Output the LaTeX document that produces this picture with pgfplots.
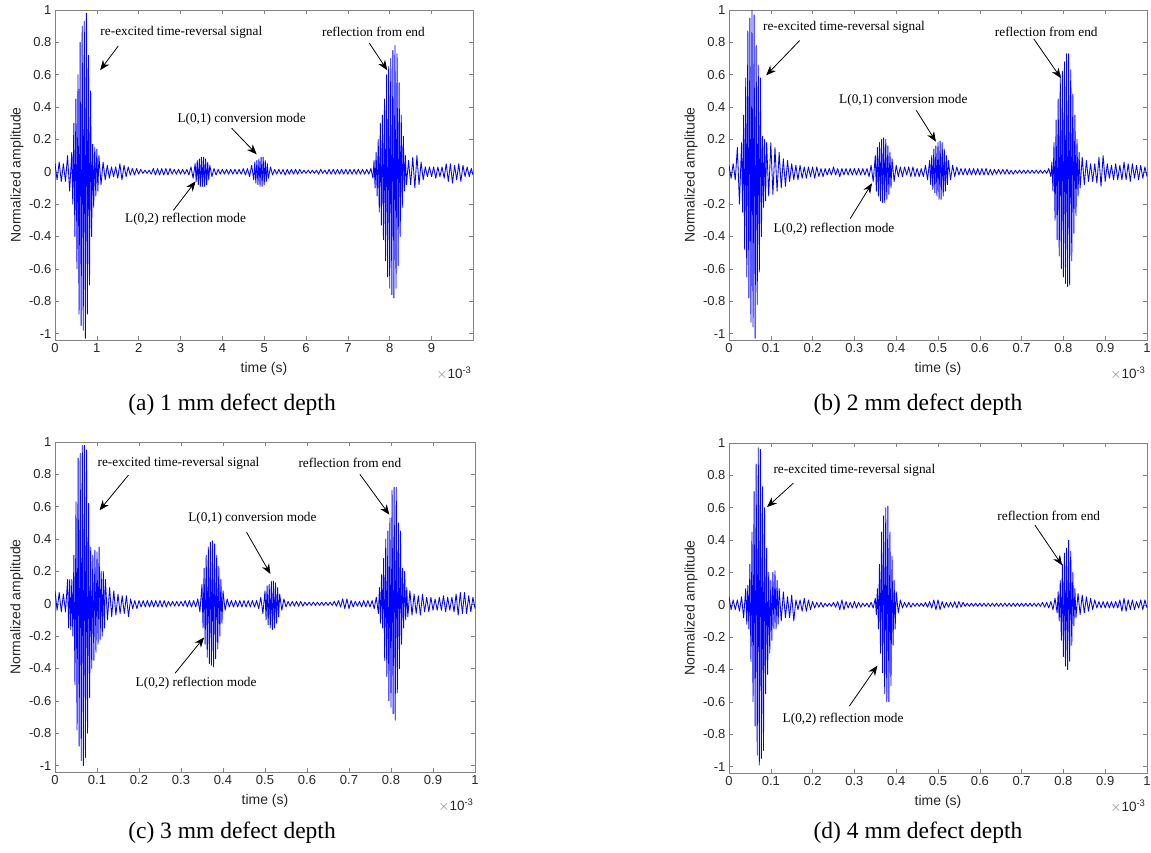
\documentclass[border=0pt]{standalone}
\usepackage{fontspec}
\setmainfont{Liberation Serif}
\newfontfamily\arial{Liberation Sans}
\usepackage{pgfplots}
\pgfplotsset{compat=1.18}
\usetikzlibrary{arrows.meta}

\definecolor{txtgray}{RGB}{38,38,38}
\definecolor{boxgray}{RGB}{130,130,130}

\pgfplotsset{
  matlab/.style={
    scale only axis, width=418pt, height=330pt,
    anchor=south west, clip mode=individual,
    ymin=-1.04, ymax=1,
    ytick={-1,-0.8,-0.6,-0.4,-0.2,0,0.2,0.4,0.6,0.8,1},
    tick align=inside, major tick length=4pt,
    axis line style={boxgray, line width=0.6pt},
    every tick/.style={boxgray, line width=0.5pt},
    tick label style={font=\arial\fontsize{13}{15}\selectfont, text=txtgray},
    label style={font=\arial\fontsize{14}{16}\selectfont, text=txtgray},
    /pgf/number format/assume math mode=true,
    /pgf/number format/fixed,
    xlabel={time (s)}, ylabel={Normalized amplitude},
    xlabel style={at={(axis description cs:0.5,-0.088)}, anchor=center},
    ylabel style={at={(axis description cs:-0.091,0.5)}, anchor=center},
  },
  sig/.style={blue, line width=0.85pt, line join=round},
}
\tikzset{
  note/.style={font=\fontsize{13.3}{15}\selectfont},
  arr/.style={black, line width=0.8pt, -{Stealth[length=10pt,width=8pt]}},
  expo/.style={font=\arial\fontsize{13.5}{15}\selectfont, text=txtgray, anchor=east, yshift=-33pt, xshift=2pt},
}
\newcommand{\expolabel}{{\color{gray}$\times$}10\textsuperscript{-3}}

\begin{document}
\begin{tikzpicture}
\path[use as bounding box] (0pt,0pt) rectangle (1151pt,-852pt);

% (a)
\begin{axis}[matlab, at={(55pt,-340pt)}, xmin=0, xmax=9.99, xtick={0,1,2,3,4,5,6,7,8,9}]
\addplot[sig] coordinates {
(0.00,0.05)(0.05,-0.05)(0.10,0.06)(0.15,-0.06)(0.20,0.05)(0.25,-0.06)(0.30,0.10)(0.35,-0.12)
(0.40,0.12)(0.425,-0.20)(0.45,0.30)(0.475,-0.40)(0.50,0.45)(0.525,-0.60)(0.55,0.60)(0.575,-0.88)
(0.60,0.80)(0.625,-0.95)(0.65,0.90)(0.675,-0.98)(0.70,0.93)(0.725,-1.03)(0.75,0.98)(0.775,-0.88)
(0.80,0.72)(0.825,-0.70)(0.85,0.50)(0.875,-0.40)(0.90,0.17)(0.925,-0.22)(0.95,0.15)(0.975,-0.15)
(1.00,0.14)(1.025,-0.12)(1.05,0.10)(1.10,-0.08)(1.15,0.06)(1.20,-0.05)(1.25,0.04)(1.30,-0.04)
(1.35,0.03)(1.40,-0.03)(1.45,0.03)(1.50,-0.04)(1.55,0.05)(1.60,-0.05)(1.65,0.04)(1.70,-0.03)
(1.75,0.03)(1.80,-0.02)(1.85,0.02)(1.90,-0.02)(1.95,0.02)(2.00,-0.015)(2.05,0.015)(2.10,-0.01)
(2.15,0.01)(2.20,-0.01)(2.25,0.01)(2.30,-0.015)(2.35,0.02)(2.40,-0.02)(2.45,0.02)(2.50,-0.02)
(2.55,0.02)(2.60,-0.02)(2.65,0.02)(2.70,-0.02)(2.75,0.02)(2.80,-0.015)(2.85,0.015)(2.90,-0.015)
(2.95,0.015)(3.00,-0.015)(3.05,0.015)(3.10,-0.015)(3.15,0.015)(3.20,-0.02)(3.25,0.03)(3.30,-0.04)
(3.35,0.05)(3.375,-0.06)(3.40,0.07)(3.425,-0.08)(3.45,0.08)(3.475,-0.09)(3.50,0.09)(3.525,-0.09)
(3.55,0.09)(3.575,-0.09)(3.60,0.08)(3.625,-0.08)(3.65,0.06)(3.675,-0.05)(3.70,0.04)(3.75,-0.03)
(3.80,0.02)(3.85,-0.02)(3.90,0.015)(3.95,-0.015)(4.00,0.015)(4.05,-0.015)(4.10,0.015)(4.15,-0.015)
(4.20,0.015)(4.25,-0.015)(4.30,0.015)(4.35,-0.015)(4.40,0.015)(4.45,-0.015)(4.50,0.02)(4.55,-0.02)
(4.60,0.02)(4.65,-0.03)(4.70,0.04)(4.75,-0.05)(4.775,0.06)(4.80,-0.07)(4.825,0.07)(4.85,-0.08)
(4.875,0.08)(4.90,-0.09)(4.925,0.09)(4.95,-0.09)(4.975,0.09)(5.00,-0.08)(5.025,0.07)(5.05,-0.06)
(5.075,0.05)(5.10,-0.04)(5.15,0.03)(5.20,-0.02)(5.25,0.015)(5.30,-0.015)(5.35,0.015)(5.40,-0.015)
(5.45,0.015)(5.50,-0.02)(5.55,0.015)(5.60,-0.015)(5.65,0.015)(5.70,-0.015)(5.75,0.015)(5.80,-0.015)
(5.85,0.015)(5.90,-0.01)(5.95,0.01)(6.00,-0.01)(6.05,0.01)(6.10,-0.01)(6.15,0.01)(6.20,-0.01)
(6.25,0.01)(6.30,-0.015)(6.35,0.015)(6.40,-0.01)(6.45,0.01)(6.50,-0.015)(6.55,0.015)(6.60,-0.015)
(6.65,0.015)(6.70,-0.015)(6.75,0.015)(6.80,-0.015)(6.85,0.015)(6.90,-0.015)(6.95,0.015)(7.00,-0.015)
(7.05,0.015)(7.10,-0.015)(7.15,0.015)(7.20,-0.015)(7.25,0.015)(7.30,-0.015)(7.35,0.015)(7.40,-0.015)
(7.45,0.015)(7.50,-0.015)(7.55,0.02)(7.60,-0.04)(7.625,0.07)(7.65,-0.10)(7.675,0.12)(7.70,-0.15)
(7.725,0.20)(7.75,-0.25)(7.775,0.30)(7.80,-0.33)(7.825,0.35)(7.85,-0.42)(7.875,0.45)(7.90,-0.55)
(7.925,0.60)(7.95,-0.65)(7.975,0.65)(8.00,-0.72)(8.025,0.70)(8.05,-0.76)(8.075,0.75)(8.10,-0.78)
(8.125,0.78)(8.15,-0.72)(8.175,0.73)(8.20,-0.58)(8.225,0.55)(8.25,-0.40)(8.275,0.35)(8.30,-0.22)
(8.325,0.22)(8.35,-0.12)(8.375,0.10)(8.40,-0.08)(8.45,0.07)(8.50,-0.08)(8.55,0.09)(8.60,-0.10)
(8.65,0.10)(8.70,-0.08)(8.75,0.06)(8.80,-0.05)(8.85,0.03)(8.90,-0.03)(8.95,0.03)(9.00,-0.03)
(9.05,0.03)(9.10,-0.04)(9.15,0.03)(9.20,-0.03)(9.25,0.03)(9.30,-0.04)(9.35,0.05)(9.40,-0.06)
(9.45,0.05)(9.50,-0.07)(9.55,0.04)(9.60,-0.05)(9.65,0.05)(9.70,-0.06)(9.75,0.04)(9.80,-0.03)
(9.85,0.03)(9.90,-0.03)(9.95,0.02)(9.99,-0.02)
};
\node[note] at (axis cs:3.02,0.865) {re-excited time-reversal signal};
\draw[arr] (axis cs:1.51,0.777) -- (axis cs:1.08,0.628);
\node[note] at (axis cs:7.61,0.865) {reflection from end};
\draw[arr] (axis cs:7.51,0.796) -- (axis cs:7.94,0.628);
\node[note] at (axis cs:4.46,0.325) {L(0,1) conversion mode};
\draw[arr] (axis cs:4.22,0.27) -- (axis cs:4.82,0.108);
\node[note] at (axis cs:3.12,-0.294) {L(0,2) reflection mode};
\draw[arr] (axis cs:2.83,-0.238) -- (axis cs:3.36,-0.059);
\node[expo] at (rel axis cs:1,0) {\expolabel};
\end{axis}

% (b)
\begin{axis}[matlab, at={(729pt,-340pt)}, xmin=0, xmax=1, xtick={0,0.1,0.2,0.3,0.4,0.5,0.6,0.7,0.8,0.9,1}]
\addplot[sig] coordinates {
(0.000,0.04)(0.005,-0.04)(0.010,0.05)(0.015,-0.05)(0.020,0.15)(0.025,-0.20)(0.030,0.18)(0.0325,-0.25)
(0.035,0.35)(0.0375,-0.48)(0.040,0.58)(0.0425,-0.65)(0.045,0.87)(0.0475,-0.78)(0.050,0.95)(0.0525,-0.93)
(0.055,1.00)(0.0575,-0.96)(0.060,0.97)(0.0625,-1.03)(0.065,0.78)(0.0675,-0.82)(0.070,0.66)(0.0725,-0.62)
(0.075,0.58)(0.0775,-0.40)(0.080,0.22)(0.0825,-0.22)(0.085,0.20)(0.0875,-0.18)(0.090,0.18)(0.095,-0.15)
(0.100,0.18)(0.105,-0.14)(0.110,0.15)(0.115,-0.12)(0.120,0.12)(0.125,-0.10)(0.130,0.08)(0.135,-0.09)
(0.140,0.07)(0.145,-0.06)(0.150,0.05)(0.155,-0.05)(0.160,0.04)(0.165,-0.05)(0.170,0.04)(0.175,-0.04)
(0.180,0.03)(0.185,-0.04)(0.190,0.03)(0.195,-0.03)(0.200,0.03)(0.205,-0.04)(0.210,0.03)(0.215,-0.03)
(0.220,0.02)(0.225,-0.03)(0.230,0.02)(0.235,-0.02)(0.240,0.02)(0.245,-0.02)(0.250,0.03)(0.255,-0.02)
(0.260,0.02)(0.265,-0.03)(0.270,0.02)(0.275,-0.02)(0.280,0.02)(0.285,-0.02)(0.290,0.02)(0.295,-0.02)
(0.300,0.02)(0.305,-0.02)(0.310,0.02)(0.315,-0.02)(0.320,0.02)(0.325,-0.02)(0.330,0.02)(0.335,-0.03)
(0.340,0.04)(0.345,-0.06)(0.350,0.10)(0.3525,-0.12)(0.355,0.15)(0.3575,-0.15)(0.360,0.18)(0.3625,-0.18)
(0.365,0.20)(0.3675,-0.19)(0.370,0.21)(0.3725,-0.19)(0.375,0.20)(0.3775,-0.17)(0.380,0.16)(0.3825,-0.14)
(0.385,0.12)(0.3875,-0.10)(0.390,0.08)(0.395,-0.06)(0.400,0.04)(0.405,-0.03)(0.410,0.03)(0.415,-0.03)
(0.420,0.03)(0.425,-0.02)(0.430,0.03)(0.435,-0.03)(0.440,0.03)(0.445,-0.03)(0.450,0.02)(0.455,-0.03)
(0.460,0.02)(0.465,-0.03)(0.470,0.04)(0.475,-0.05)(0.480,0.07)(0.4825,-0.08)(0.485,0.10)(0.4875,-0.11)
(0.490,0.14)(0.4925,-0.13)(0.495,0.16)(0.4975,-0.15)(0.500,0.18)(0.5025,-0.17)(0.505,0.19)(0.5075,-0.17)
(0.510,0.18)(0.5125,-0.15)(0.515,0.14)(0.5175,-0.12)(0.520,0.10)(0.5225,-0.08)(0.525,0.07)(0.530,-0.05)
(0.535,0.04)(0.540,-0.03)(0.545,0.03)(0.550,-0.02)(0.555,0.02)(0.560,-0.02)(0.565,0.02)(0.570,-0.02)
(0.575,0.02)(0.580,-0.02)(0.585,0.02)(0.590,-0.02)(0.595,0.02)(0.600,-0.02)(0.605,0.02)(0.610,-0.02)
(0.615,0.02)(0.620,-0.02)(0.625,0.015)(0.630,-0.02)(0.635,0.015)(0.640,-0.015)(0.645,0.015)(0.650,-0.015)
(0.655,0.015)(0.660,-0.015)(0.665,0.015)(0.670,-0.015)(0.675,0.01)(0.680,-0.015)(0.685,0.01)(0.690,-0.01)
(0.695,0.01)(0.700,-0.01)(0.705,0.01)(0.710,-0.01)(0.715,0.01)(0.720,-0.01)(0.725,0.01)(0.730,-0.01)
(0.735,0.01)(0.740,-0.01)(0.745,0.01)(0.750,-0.01)(0.755,0.01)(0.760,-0.01)(0.765,0.02)(0.770,-0.03)
(0.7725,0.06)(0.775,-0.12)(0.7775,0.18)(0.780,-0.30)(0.7825,0.32)(0.785,-0.42)(0.7875,0.45)(0.790,-0.52)
(0.7925,0.60)(0.795,-0.60)(0.7975,0.62)(0.800,-0.65)(0.8025,0.68)(0.805,-0.69)(0.8075,0.73)(0.810,-0.71)
(0.8125,0.73)(0.815,-0.70)(0.8175,0.63)(0.820,-0.55)(0.8225,0.48)(0.825,-0.38)(0.8275,0.35)(0.830,-0.27)
(0.8325,0.20)(0.835,-0.15)(0.8375,0.12)(0.840,-0.10)(0.845,0.09)(0.850,-0.08)(0.855,0.07)(0.860,-0.06)
(0.865,0.05)(0.870,-0.06)(0.875,0.05)(0.880,-0.07)(0.885,0.09)(0.890,-0.09)(0.895,0.10)(0.900,-0.06)
(0.905,0.05)(0.910,-0.04)(0.915,0.04)(0.920,-0.05)(0.925,0.05)(0.930,-0.05)(0.935,0.04)(0.940,-0.05)
(0.945,0.06)(0.950,-0.05)(0.955,0.05)(0.960,-0.06)(0.965,0.05)(0.970,-0.04)(0.975,0.04)(0.980,-0.05)
(0.985,0.04)(0.990,-0.04)(0.995,0.03)(1.000,-0.03)
};
\node[note] at (axis cs:0.275,0.893) {re-excited time-reversal signal};
\draw[arr] (axis cs:0.169,0.811) -- (axis cs:0.089,0.596);
\node[note] at (axis cs:0.759,0.867) {reflection from end};
\draw[arr] (axis cs:0.729,0.822) -- (axis cs:0.794,0.579);
\node[note] at (axis cs:0.417,0.442) {L(0,1) conversion mode};
\draw[arr] (axis cs:0.448,0.380) -- (axis cs:0.495,0.186);
\node[note] at (axis cs:0.251,-0.354) {L(0,2) reflection mode};
\draw[arr] (axis cs:0.290,-0.290) -- (axis cs:0.342,-0.071);
\node[expo] at (rel axis cs:1,0) {\expolabel};
\end{axis}

% (c)
\begin{axis}[matlab, at={(55pt,-772pt)}, width=420pt, xmin=0, xmax=1, xtick={0,0.1,0.2,0.3,0.4,0.5,0.6,0.7,0.8,0.9,1}]
\addplot[sig] coordinates {
(0.000,0.08)(0.005,-0.04)(0.010,0.07)(0.015,-0.05)(0.020,0.06)(0.025,-0.05)(0.030,0.15)(0.0325,-0.15)
(0.035,0.15)(0.0375,-0.16)(0.040,0.15)(0.0425,-0.20)(0.045,0.30)(0.0475,-0.50)(0.050,0.63)(0.0525,-0.78)
(0.055,0.90)(0.0575,-0.88)(0.060,0.93)(0.0625,-0.97)(0.065,0.98)(0.0675,-1.00)(0.070,0.98)(0.0725,-0.95)
(0.075,0.95)(0.0775,-0.80)(0.080,0.62)(0.0825,-0.58)(0.085,0.35)(0.0875,-0.40)(0.090,0.30)(0.0925,-0.35)
(0.095,0.33)(0.0975,-0.30)(0.100,0.32)(0.1025,-0.25)(0.105,0.35)(0.1075,-0.22)(0.110,0.20)(0.1125,-0.20)
(0.115,0.20)(0.1175,-0.15)(0.120,0.15)(0.125,-0.10)(0.130,0.10)(0.135,-0.08)(0.140,0.08)(0.145,-0.07)
(0.150,0.06)(0.155,-0.06)(0.160,0.05)(0.165,-0.06)(0.170,0.05)(0.175,-0.08)(0.180,0.03)(0.185,-0.03)
(0.190,0.02)(0.195,-0.03)(0.200,0.02)(0.205,-0.02)(0.210,0.02)(0.215,-0.02)(0.220,0.02)(0.225,-0.02)
(0.230,0.02)(0.235,-0.02)(0.240,0.02)(0.245,-0.02)(0.250,0.02)(0.255,-0.02)(0.260,0.02)(0.265,-0.02)
(0.270,0.015)(0.275,-0.015)(0.280,0.015)(0.285,-0.015)(0.290,0.015)(0.295,-0.015)(0.300,0.015)(0.305,-0.015)
(0.310,0.02)(0.315,-0.02)(0.320,0.02)(0.325,-0.02)(0.330,0.02)(0.335,-0.02)(0.340,0.03)(0.345,-0.05)
(0.350,0.12)(0.3525,-0.15)(0.355,0.22)(0.3575,-0.25)(0.360,0.30)(0.3625,-0.33)(0.365,0.35)(0.3675,-0.37)
(0.370,0.38)(0.3725,-0.38)(0.375,0.39)(0.3775,-0.39)(0.380,0.37)(0.3825,-0.34)(0.385,0.30)(0.3875,-0.28)
(0.390,0.23)(0.3925,-0.20)(0.395,0.15)(0.3975,-0.12)(0.400,0.08)(0.405,-0.04)(0.410,0.03)(0.415,-0.02)
(0.420,0.02)(0.425,-0.02)(0.430,0.02)(0.435,-0.02)(0.440,0.02)(0.445,-0.02)(0.450,0.02)(0.455,-0.02)
(0.460,0.02)(0.465,-0.02)(0.470,0.02)(0.475,-0.02)(0.480,0.02)(0.485,-0.03)(0.490,0.04)(0.495,-0.06)
(0.500,0.08)(0.5025,-0.10)(0.505,0.11)(0.5075,-0.13)(0.510,0.12)(0.5125,-0.15)(0.515,0.14)(0.5175,-0.16)
(0.520,0.14)(0.5225,-0.15)(0.525,0.13)(0.5275,-0.12)(0.530,0.10)(0.5325,-0.08)(0.535,0.06)(0.540,-0.04)
(0.545,0.03)(0.550,-0.02)(0.555,0.015)(0.560,-0.015)(0.565,0.015)(0.570,-0.015)(0.575,0.015)(0.580,-0.015)
(0.585,0.015)(0.590,-0.015)(0.595,0.01)(0.600,-0.01)(0.605,0.01)(0.610,-0.01)(0.615,0.01)(0.620,-0.01)
(0.625,0.01)(0.630,-0.01)(0.635,0.01)(0.640,-0.01)(0.645,0.01)(0.650,-0.01)(0.655,0.01)(0.660,-0.01)
(0.665,0.015)(0.670,-0.015)(0.675,0.02)(0.680,-0.02)(0.685,0.03)(0.690,-0.03)(0.695,0.03)(0.700,-0.03)
(0.705,0.02)(0.710,-0.02)(0.715,0.015)(0.720,-0.015)(0.725,0.015)(0.730,-0.02)(0.735,0.02)(0.740,-0.02)
(0.745,0.02)(0.750,-0.02)(0.755,0.02)(0.760,-0.03)(0.765,0.04)(0.770,-0.06)(0.7725,0.10)(0.775,-0.12)
(0.7775,0.18)(0.780,-0.15)(0.7825,0.28)(0.785,-0.35)(0.7875,0.40)(0.790,-0.45)(0.7925,0.45)(0.795,-0.60)
(0.7975,0.53)(0.800,-0.64)(0.8025,0.70)(0.805,-0.68)(0.8075,0.72)(0.810,-0.72)(0.8125,0.72)(0.815,-0.55)
(0.8175,0.50)(0.820,-0.40)(0.8225,0.45)(0.825,-0.25)(0.8275,0.22)(0.830,-0.15)(0.8325,0.20)(0.835,-0.10)
(0.8375,0.10)(0.840,-0.08)(0.845,0.08)(0.850,-0.07)(0.855,0.06)(0.860,-0.06)(0.865,0.05)(0.870,-0.07)
(0.875,0.06)(0.880,-0.05)(0.885,0.04)(0.890,-0.05)(0.895,0.04)(0.900,-0.04)(0.905,0.03)(0.910,-0.04)
(0.915,0.04)(0.920,-0.04)(0.925,0.05)(0.930,-0.05)(0.935,0.04)(0.940,-0.04)(0.945,0.04)(0.950,-0.05)
(0.955,0.06)(0.960,-0.07)(0.965,0.07)(0.970,-0.06)(0.975,0.07)(0.980,-0.06)(0.985,0.05)(0.990,-0.05)
(0.995,0.04)(1.000,-0.03)
};
\node[note] at (axis cs:0.294,0.871) {re-excited time-reversal signal};
\draw[arr] (axis cs:0.175,0.796) -- (axis cs:0.106,0.578);
\node[note] at (axis cs:0.702,0.871) {reflection from end};
\draw[arr] (axis cs:0.726,0.80) -- (axis cs:0.796,0.551);
\node[note] at (axis cs:0.470,0.531) {L(0,1) conversion mode};
\draw[arr] (axis cs:0.456,0.443) -- (axis cs:0.513,0.184);
\node[note] at (axis cs:0.336,-0.494) {L(0,2) reflection mode};
\draw[arr] (axis cs:0.286,-0.429) -- (axis cs:0.355,-0.208);
\node[expo] at (rel axis cs:1,0) {\expolabel};
\end{axis}

% (d)
\begin{axis}[matlab, at={(729pt,-773pt)}, xmin=0, xmax=1, xtick={0,0.1,0.2,0.3,0.4,0.5,0.6,0.7,0.8,0.9,1}]
\addplot[sig] coordinates {
(0.000,0.05)(0.005,-0.03)(0.010,0.03)(0.015,-0.03)(0.020,0.03)(0.025,-0.04)(0.030,0.05)(0.035,-0.08)
(0.040,0.10)(0.0425,-0.12)(0.045,0.12)(0.0475,-0.15)(0.050,0.25)(0.0525,-0.35)(0.055,0.45)(0.0575,-0.60)
(0.060,0.70)(0.0625,-0.75)(0.065,0.87)(0.0675,-0.93)(0.070,0.97)(0.0725,-0.99)(0.075,0.96)(0.0775,-0.95)
(0.080,0.73)(0.0825,-0.90)(0.085,0.60)(0.0875,-0.55)(0.090,0.35)(0.0925,-0.43)(0.095,0.20)(0.0975,-0.30)
(0.100,0.15)(0.1025,-0.22)(0.105,0.20)(0.1075,-0.15)(0.110,0.21)(0.1125,-0.15)(0.115,0.15)(0.1175,-0.12)
(0.120,0.10)(0.125,-0.10)(0.130,0.08)(0.135,-0.08)(0.140,0.05)(0.145,-0.08)(0.150,0.06)(0.155,-0.10)
(0.160,0.03)(0.165,-0.03)(0.170,0.03)(0.175,-0.04)(0.180,0.04)(0.185,-0.04)(0.190,0.03)(0.195,-0.03)
(0.200,0.02)(0.205,-0.02)(0.210,0.015)(0.215,-0.015)(0.220,0.015)(0.225,-0.015)(0.230,0.01)(0.235,-0.01)
(0.240,0.01)(0.245,-0.01)(0.250,0.015)(0.255,-0.015)(0.260,0.02)(0.265,-0.03)(0.270,0.03)(0.275,-0.03)
(0.280,0.02)(0.285,-0.02)(0.290,0.015)(0.295,-0.02)(0.300,0.02)(0.305,-0.02)(0.310,0.015)(0.315,-0.015)
(0.320,0.01)(0.325,-0.01)(0.330,0.01)(0.335,-0.015)(0.340,0.015)(0.345,-0.02)(0.350,0.04)(0.3525,-0.06)
(0.355,0.10)(0.3575,-0.15)(0.360,0.25)(0.3625,-0.30)(0.365,0.45)(0.3675,-0.42)(0.370,0.55)(0.3725,-0.55)
(0.375,0.60)(0.3775,-0.60)(0.380,0.61)(0.3825,-0.60)(0.385,0.45)(0.3875,-0.50)(0.390,0.30)(0.3925,-0.25)
(0.395,0.15)(0.3975,-0.15)(0.400,0.08)(0.405,-0.05)(0.410,0.03)(0.415,-0.02)(0.420,0.015)(0.425,-0.015)
(0.430,0.015)(0.435,-0.015)(0.440,0.01)(0.445,-0.01)(0.450,0.01)(0.455,-0.01)(0.460,0.01)(0.465,-0.01)
(0.470,0.015)(0.475,-0.015)(0.480,0.02)(0.485,-0.02)(0.490,0.03)(0.495,-0.03)(0.500,0.03)(0.505,-0.03)
(0.510,0.02)(0.515,-0.02)(0.520,0.015)(0.525,-0.015)(0.530,0.015)(0.535,-0.015)(0.540,0.02)(0.545,-0.02)
(0.550,0.02)(0.555,-0.015)(0.560,0.015)(0.565,-0.01)(0.570,0.01)(0.575,-0.01)(0.580,0.01)(0.585,-0.01)
(0.590,0.01)(0.595,-0.01)(0.600,0.01)(0.605,-0.01)(0.610,0.01)(0.615,-0.01)(0.620,0.01)(0.625,-0.01)
(0.630,0.01)(0.635,-0.01)(0.640,0.01)(0.645,-0.01)(0.650,0.01)(0.655,-0.01)(0.660,0.01)(0.665,-0.01)
(0.670,0.01)(0.675,-0.01)(0.680,0.01)(0.685,-0.01)(0.690,0.01)(0.695,-0.01)(0.700,0.01)(0.705,-0.01)
(0.710,0.01)(0.715,-0.01)(0.720,0.01)(0.725,-0.01)(0.730,0.01)(0.735,-0.01)(0.740,0.01)(0.745,-0.01)
(0.750,0.015)(0.755,-0.015)(0.760,0.015)(0.765,-0.02)(0.770,0.02)(0.775,-0.03)(0.780,0.04)(0.785,-0.05)
(0.7875,0.08)(0.790,-0.10)(0.7925,0.15)(0.795,-0.22)(0.7975,0.25)(0.800,-0.32)(0.8025,0.32)(0.805,-0.38)
(0.8075,0.35)(0.810,-0.40)(0.8125,0.40)(0.815,-0.35)(0.8175,0.33)(0.820,-0.25)(0.8225,0.20)(0.825,-0.13)
(0.8275,0.10)(0.830,-0.08)(0.835,0.07)(0.840,-0.06)(0.845,0.06)(0.850,-0.05)(0.855,0.05)(0.860,-0.04)
(0.865,0.04)(0.870,-0.03)(0.875,0.03)(0.880,-0.02)(0.885,0.02)(0.890,-0.02)(0.895,0.02)(0.900,-0.02)
(0.905,0.02)(0.910,-0.02)(0.915,0.02)(0.920,-0.02)(0.925,0.02)(0.930,-0.02)(0.935,0.03)(0.940,-0.04)
(0.945,0.04)(0.950,-0.04)(0.955,0.03)(0.960,-0.03)(0.965,0.03)(0.970,-0.03)(0.975,0.02)(0.980,-0.02)
(0.985,0.03)(0.990,-0.03)(0.995,0.03)(1.000,-0.02)
};
\node[note] at (axis cs:0.300,0.829) {re-excited time-reversal signal};
\draw[arr] (axis cs:0.154,0.752) -- (axis cs:0.091,0.604);
\node[note] at (axis cs:0.765,0.549) {reflection from end};
\draw[arr] (axis cs:0.732,0.492) -- (axis cs:0.797,0.244);
\node[note] at (axis cs:0.273,-0.707) {L(0,2) reflection mode};
\draw[arr] (axis cs:0.288,-0.626) -- (axis cs:0.355,-0.376);
\node[expo] at (rel axis cs:1,0) {\expolabel};
\end{axis}

% captions
\node[font=\fontsize{23.5}{26}\selectfont] at (232pt,-405pt) {(a) 1 mm defect depth};
\node[font=\fontsize{23.5}{26}\selectfont] at (918pt,-405pt) {(b) 2 mm defect depth};
\node[font=\fontsize{23.5}{26}\selectfont] at (232pt,-833pt) {(c) 3 mm defect depth};
\node[font=\fontsize{23.5}{26}\selectfont] at (918pt,-833pt) {(d) 4 mm defect depth};
\end{tikzpicture}
\end{document}
